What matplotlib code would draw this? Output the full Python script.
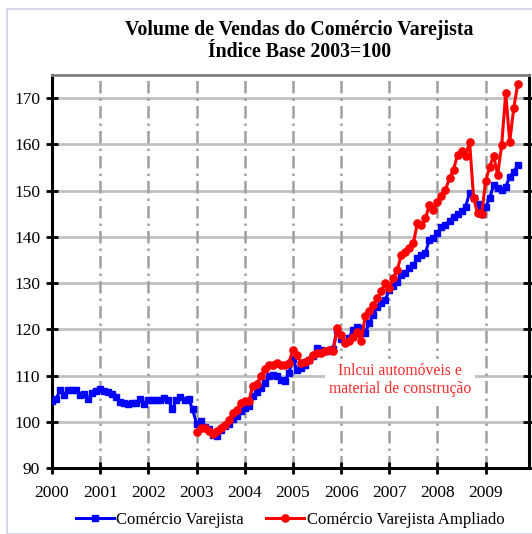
import matplotlib.pyplot as plt
from matplotlib.patches import Rectangle
import numpy as np

# monthly index, Jan 2000 .. Sep 2009
varejista = [
    104.4, 104.9, 106.8, 105.8, 106.8, 106.8, 106.8, 105.7, 106.0, 104.9, 106.3, 106.6,  # 2000
    107.0, 106.7, 106.4, 106.0, 105.3, 104.2, 104.0, 103.8, 104.0, 104.0, 105.0, 103.9,  # 2001
    104.7, 104.7, 104.7, 104.7, 105.2, 104.7, 102.7, 104.7, 105.3, 104.7, 105.0, 102.7,  # 2002
    99.6, 100.1, 98.9, 98.5, 97.2, 97.0, 98.3, 99.0, 99.6, 100.5, 101.3, 102.3,           # 2003
    103.0, 103.5, 105.5, 106.5, 107.3, 108.4, 109.8, 110.2, 109.8, 109.1, 108.8, 110.6,  # 2004
    113.5, 111.3, 111.6, 112.3, 113.4, 114.2, 116.0, 115.6, 115.3, 115.3, 115.8, 119.8,  # 2005
    118.0, 117.3, 118.2, 119.9, 120.6, 120.3, 119.2, 121.3, 123.1, 124.9, 125.7, 126.4,  # 2006
    128.5, 129.3, 130.3, 131.8, 132.2, 133.2, 133.9, 135.4, 136.1, 136.5, 139.4, 139.7,  # 2007
    140.9, 142.2, 142.6, 143.5, 144.3, 145.0, 145.5, 146.5, 149.5, 148.4, 147.0, 145.0,  # 2008
    146.5, 148.4, 151.2, 150.5, 150.2, 150.8, 153.0, 154.0, 155.6,                       # 2009
]

# Jan 2003 .. Sep 2009
ampliado = [
    97.8, 98.6, 98.6, 97.9, 97.3, 97.9, 98.6, 99.4, 100.4, 101.9, 102.6, 104.0,          # 2003
    104.4, 104.4, 107.8, 108.2, 109.9, 111.4, 112.3, 112.3, 112.7, 112.3, 112.3, 112.7,  # 2004
    115.6, 114.5, 112.7, 113.0, 113.4, 114.5, 114.9, 114.9, 115.2, 115.6, 115.2, 120.3,  # 2005
    118.8, 117.0, 117.4, 118.4, 119.5, 117.4, 122.8, 123.9, 125.3, 126.7, 128.2, 130.0,  # 2006
    128.9, 131.1, 132.9, 136.1, 136.8, 137.6, 138.6, 143.0, 142.6, 144.0, 146.9, 145.8,  # 2007
    147.6, 148.8, 150.2, 152.7, 154.5, 157.8, 158.5, 157.4, 160.6, 148.4, 145.1, 144.9,  # 2008
    152.0, 155.2, 157.5, 153.4, 159.9, 171.1, 160.6, 167.8, 173.1,                       # 2009
]

anos = list(range(2000, 2010))
yticks = list(range(90, 171, 10))

x_var = 2000 + np.arange(len(varejista)) / 12.0
x_amp = 2003 + np.arange(len(ampliado)) / 12.0

serif = ['Liberation Serif', 'DejaVu Serif']
plt.rcParams['font.family'] = serif

fig = plt.figure(figsize=(5.32, 5.34), dpi=100)
fig.patches.append(Rectangle((7 / 532, 0), 1, 1 - 9 / 534, transform=fig.transFigure,
                             fill=False, edgecolor='#c9d1e3', linewidth=1.2))

ax = fig.add_axes([52 / 532, 1 - 468 / 534, 477 / 532, 393 / 534])

ax.set_xlim(2000, 2009.9)
ax.set_ylim(90, 175)
ax.set_yticks(yticks)
ax.set_xticks(anos)
ax.set_xticklabels([str(a) for a in anos])

for y in yticks:
    ax.axhline(y, color='#c0c0c0', linewidth=2, zorder=1)
for a in anos[1:]:
    ax.axvline(a, color='#a0a0a0', linewidth=1.8, linestyle=(0, (5, 2, 1, 2)), zorder=1)

ax.plot(x_var, varejista, color='#0000ff', linewidth=2.2, marker='s', markersize=4.8,
        label='Comércio Varejista', zorder=3)
ax.plot(x_amp, ampliado, color='#ff0000', linewidth=2.2, marker='o', markersize=5.2,
        label='Comércio Varejista Ampliado', zorder=4)

ax.text(2007.22, 109.0, 'Inlcui automóveis e\nmaterial de construção', color='#ff2a2a',
        fontsize=11.3, ha='center', va='center', linespacing=1.15, zorder=5,
        bbox=dict(facecolor='white', edgecolor='none', pad=3))

for s in ['left', 'bottom', 'right']:
    ax.spines[s].set_linewidth(2.2)
    ax.spines[s].set_color('black')
ax.spines['top'].set_color('#808080')
ax.spines['top'].set_linewidth(2)

ax.tick_params(axis='both', direction='inout', length=9, width=2, labelsize=12.5)
ax.tick_params(axis='y', pad=4, right=True)
ax.tick_params(axis='x', pad=8)

fig.text(0.563, 0.944, 'Volume de Vendas do Comércio Varejista', ha='center', va='center',
         fontsize=14.3, fontweight='bold')
fig.text(0.563, 0.903, 'Índice Base 2003=100', ha='center', va='center',
         fontsize=14.3, fontweight='bold')

fig.legend(loc='center', bbox_to_anchor=(0.545, 0.026), ncol=2, frameon=False,
           fontsize=12, handlelength=2.3, columnspacing=1.3, handletextpad=0.15)

fig.savefig('out.png', dpi=100)
